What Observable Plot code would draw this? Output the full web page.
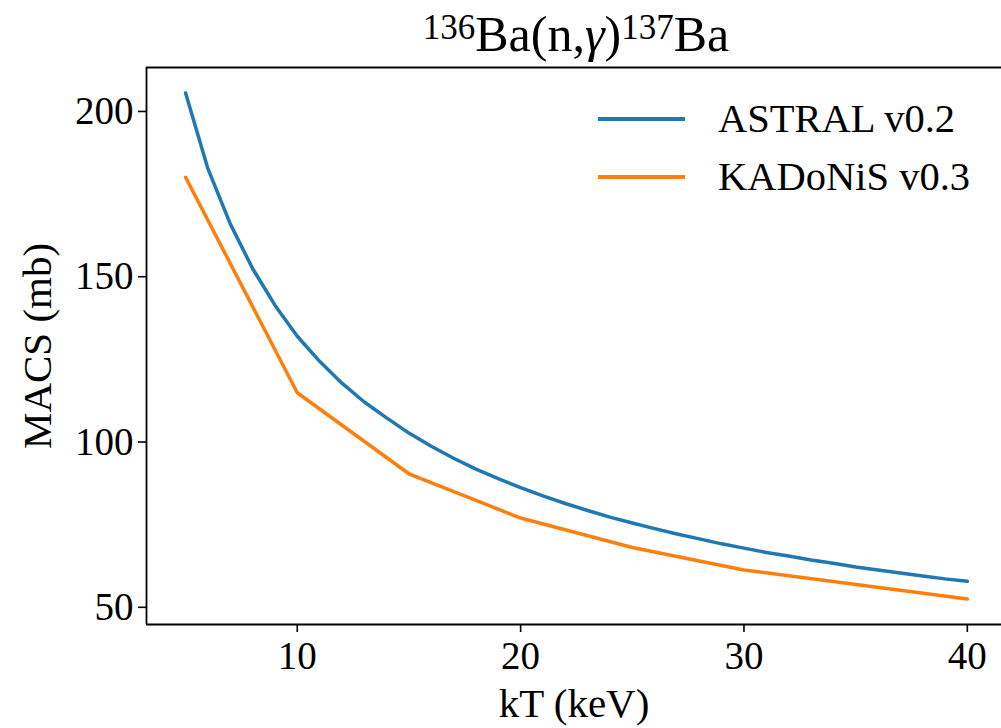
<!DOCTYPE html>
<html><head><meta charset="utf-8">
<script src="https://cdn.jsdelivr.net/npm/d3@7"></script>
<script src="https://cdn.jsdelivr.net/npm/@observablehq/plot@0.6"></script>
<style>
body{margin:0;background:#fff;overflow:hidden;font-family:"Liberation Serif",serif;color:#000;}
#wrap{position:relative;width:1001px;height:728px;overflow:hidden;}
#title{position:relative;height:66px;}
#title span.t{position:absolute;left:146px;width:860px;top:9px;text-align:center;font-size:50px;line-height:50px;white-space:nowrap;}
#title sup{font-size:0.7em;position:relative;top:-0.34em;vertical-align:baseline;line-height:0;}
.leg{position:absolute;left:598px;display:flex;align-items:center;font-size:40.5px;line-height:40px;white-space:nowrap;}
.leg .sw{width:87px;height:3.5px;margin-right:33px;}
</style>
</head><body>
<div id="wrap">
  <div id="title"><span class="t"><sup>136</sup>Ba(n,<i>γ</i>)<sup>137</sup>Ba</span></div>
  <div id="chart"></div>
</div>
<script>
// ASTRAL v0.2
const astralKT = [5,6,7,8,9,10,11,12,13,14,15,16,17,18,19,20,21,22,23,24,25,26,27,28,29,30,31,32,33,34,35,36,37,38,39,40];
const astralMACS = [205.6,182.7,166.0,152.5,141.4,132.0,124.4,117.8,112.1,107.3,102.7,98.7,95.1,91.8,88.9,86.2,83.7,81.4,79.3,77.3,75.5,73.8,72.2,70.7,69.2,67.9,66.6,65.5,64.3,63.3,62.2,61.3,60.4,59.5,58.6,57.9];
// KADoNiS v0.3
const kadonisKT = [5,10,15,20,25,30,40];
const kadonisMACS = [180.1,114.9,90.4,77.0,68.1,61.3,52.5];
const seriesNames = ["ASTRAL v0.2","KADoNiS v0.3"];
const seriesColors = ["#1f77b4","#ff7f0e"];
const xTicks = [10,20,30,40];
const yTicks = [50,100,150,200];
const xDomain = [3.25,41.53];
const yDomain = [44.8,213.3];

const astral = astralKT.map((k,i)=>({kT:k, macs:astralMACS[i]}));
const kadonis = kadonisKT.map((k,i)=>({kT:k, macs:kadonisMACS[i]}));

const chart = Plot.plot({
  width:1001, height:662,
  marginTop:1, marginLeft:146, marginRight:0, marginBottom:104,
  style:{fontFamily:"Liberation Serif", fontSize:"39px", color:"#000", background:"#fff", overflow:"visible"},
  x:{domain:xDomain},
  y:{domain:yDomain},
  marks:[
    Plot.line(astral,{x:"kT",y:"macs",stroke:seriesColors[0],strokeWidth:3.5}),
    Plot.line(kadonis,{x:"kT",y:"macs",stroke:seriesColors[1],strokeWidth:3.5}),
    Plot.ruleX([xDomain[0]],{stroke:"#000",strokeWidth:1.8}),
    Plot.ruleY([yDomain[0],yDomain[1]],{stroke:"#000",strokeWidth:1.8}),
    Plot.axisX({ticks:xTicks, tickSize:8, tickPadding:9, strokeWidth:1.6, fill:"#000", label:null}),
    Plot.axisX({ticks:[], label:"kT (keV)", labelAnchor:"center", labelArrow:"none", labelOffset:92, fill:"#000", fontSize:41}),
    Plot.axisY({ticks:yTicks, tickSize:8, tickPadding:5, strokeWidth:1.6, fill:"#000", label:null}),
    Plot.axisY({ticks:[], label:"MACS (mb)", labelAnchor:"center", labelArrow:"none", labelOffset:125, fill:"#000", fontSize:41})
  ]
});
document.getElementById("chart").appendChild(chart);

// legend
const wrap = document.getElementById("wrap");
const legTops = [99, 157];
seriesNames.forEach((name,i)=>{
  const row = document.createElement("div");
  row.className = "leg";
  row.style.top = legTops[i] + "px";
  const sw = document.createElement("div");
  sw.className = "sw";
  sw.style.background = seriesColors[i];
  const tx = document.createElement("span");
  tx.textContent = name;
  row.appendChild(sw); row.appendChild(tx);
  wrap.appendChild(row);
});
</script>
</body></html>
